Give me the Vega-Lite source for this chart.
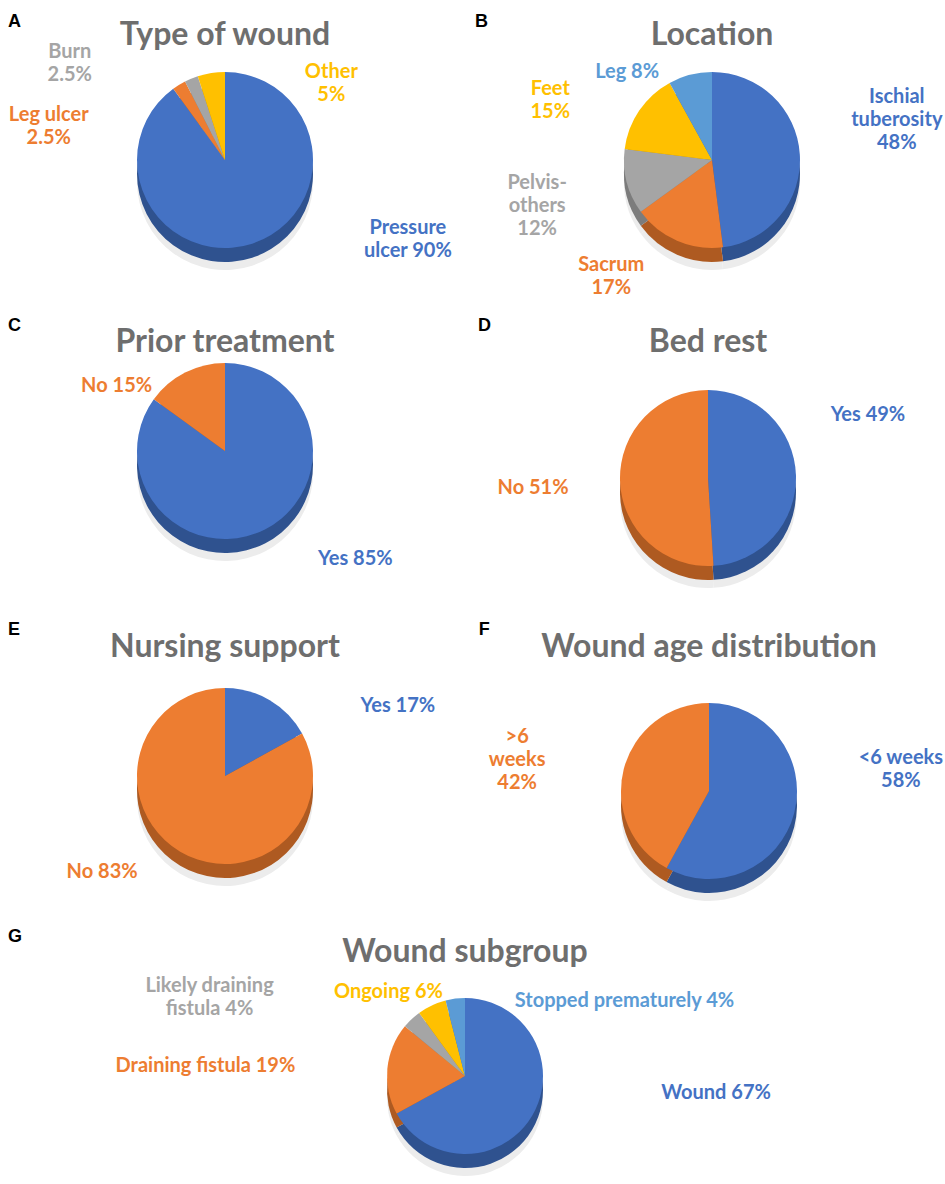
{
  "$schema": "https://vega.github.io/schema/vega-lite/v6.json",
  "background": "white",
  "padding": {"top": 11, "left": 5, "right": 5, "bottom": 5},
  "datasets": {
    "wound": [
      {"k": "Pressure ulcer", "v": 90, "o": 1, "label": "Pressure\nulcer 90%"},
      {"k": "Leg ulcer", "v": 2.5, "o": 2, "label": "Leg ulcer\n2.5%"},
      {"k": "Burn", "v": 2.5, "o": 3, "label": "Burn\n2.5%"},
      {"k": "Other", "v": 5, "o": 4, "label": "Other\n5%"}
    ],
    "location": [
      {"k": "Ischial tuberosity", "v": 48, "o": 1, "label": "Ischial\ntuberosity\n48%"},
      {"k": "Sacrum", "v": 17, "o": 2, "label": "Sacrum\n17%"},
      {"k": "Pelvis-others", "v": 12, "o": 3, "label": "Pelvis-\nothers\n12%"},
      {"k": "Feet", "v": 15, "o": 4, "label": "Feet\n15%"},
      {"k": "Leg", "v": 8, "o": 5, "label": "Leg 8%"}
    ],
    "prior": [
      {"k": "Yes", "v": 85, "o": 1, "label": "Yes 85%"},
      {"k": "No", "v": 15, "o": 2, "label": "No 15%"}
    ],
    "bedrest": [
      {"k": "Yes", "v": 49, "o": 1, "label": "Yes 49%"},
      {"k": "No", "v": 51, "o": 2, "label": "No 51%"}
    ],
    "nursing": [
      {"k": "Yes", "v": 17, "o": 1, "label": "Yes 17%"},
      {"k": "No", "v": 83, "o": 2, "label": "No 83%"}
    ],
    "age": [
      {"k": "<6 weeks", "v": 58, "o": 1, "label": "<6 weeks\n58%"},
      {"k": ">6 weeks", "v": 42, "o": 2, "label": ">6\nweeks\n42%"}
    ],
    "subgroup": [
      {"k": "Wound", "v": 67, "o": 1, "label": "Wound 67%"},
      {"k": "Draining fistula", "v": 19, "o": 2, "label": "Draining fistula 19%"},
      {"k": "Likely draining fistula", "v": 4, "o": 3, "label": "Likely draining\nfistula 4%"},
      {"k": "Ongoing", "v": 6, "o": 4, "label": "Ongoing 6%"},
      {"k": "Stopped prematurely", "v": 4, "o": 5, "label": "Stopped prematurely 4%"}
    ]
  },
  "config": {
    "view": {"stroke": null},
    "font": "Lato",
    "title": {"fontSize": 32, "fontWeight": "bold", "color": "#6E6E6E", "font": "Lato"},
    "text": {"font": "Lato", "fontSize": 20, "fontWeight": "bold", "lineBreak": "\n", "lineHeight": 23, "align": "center", "baseline": "middle", "radius": 100},
    "arc": {"stroke": null}
  },
  "spacing": 5,
  "resolve": {"scale": {"color": "independent", "fill": "independent", "theta": "independent"}},
  "vconcat": [
    {
      "spacing": 22, "align": "none",
      "resolve": {"scale": {"color": "independent", "fill": "independent", "theta": "independent"}},
      "hconcat": [
        {
          "title": {"text": "A", "anchor": "start", "fontSize": 18, "color": "black", "font": "Liberation Sans", "offset": 0, "dy": 20, "dx": 3},
          "vconcat": [{
            "title": {"text": "Type of wound", "offset": -41},
            "width": 440, "height": 298,
            "data": {"name": "wound"},
            "transform": [{"stack": "v", "groupby": [], "sort": [{"field": "o"}], "as": ["v0", "v1"]}],
            "layer": [
              {"mark": {"type": "arc", "outerRadius": 88, "yOffset": 22, "color": "#ececec"}, "encoding": {"theta": {"field": "v0", "type": "quantitative", "stack": null, "scale": {"domain": [0, 100]}}, "theta2": {"field": "v1"}}},
              {"mark": {"type": "arc", "outerRadius": 88, "yOffset": 14}, "encoding": {"theta": {"field": "v0", "type": "quantitative", "stack": null, "scale": {"domain": [0, 100]}}, "theta2": {"field": "v1"}, "fill": {"field": "k", "type": "nominal", "legend": null, "scale": {"domain": ["Pressure ulcer", "Leg ulcer", "Burn", "Other"], "range": ["#2F528F", "#AE5A21", "#7C7C7C", "#BF9000"]}}}},
              {"mark": {"type": "arc", "outerRadius": 88}, "encoding": {"theta": {"field": "v0", "type": "quantitative", "stack": null, "scale": {"domain": [0, 100]}}, "theta2": {"field": "v1"}, "color": {"field": "k", "type": "nominal", "legend": null, "scale": {"domain": ["Pressure ulcer", "Leg ulcer", "Burn", "Other"], "range": ["#4472C4", "#ED7D31", "#A5A5A5", "#FFC000"]}}}},
              {"transform": [{"filter": "datum.k === 'Pressure ulcer'"}], "mark": {"type": "text", "thetaOffset": 2.8274, "dx": 152, "dy": -27, "color": "#4472C4"}, "encoding": {"theta": {"field": "v0", "type": "quantitative", "stack": null, "scale": {"domain": [0, 100]}}, "text": {"field": "label"}}},
              {"transform": [{"filter": "datum.k === 'Leg ulcer'"}], "mark": {"type": "text", "thetaOffset": 0.0785, "dx": -124, "dy": 40, "color": "#ED7D31"}, "encoding": {"theta": {"field": "v0", "type": "quantitative", "stack": null, "scale": {"domain": [0, 100]}}, "text": {"field": "label"}}},
              {"transform": [{"filter": "datum.k === 'Burn'"}], "mark": {"type": "text", "thetaOffset": 0.0785, "dx": -117, "dy": -16, "color": "#A5A5A5"}, "encoding": {"theta": {"field": "v0", "type": "quantitative", "stack": null, "scale": {"domain": [0, 100]}}, "text": {"field": "label"}}},
              {"transform": [{"filter": "datum.k === 'Other'"}], "mark": {"type": "text", "thetaOffset": 0.1571, "dx": 122, "dy": 11, "color": "#FFC000"}, "encoding": {"theta": {"field": "v0", "type": "quantitative", "stack": null, "scale": {"domain": [0, 100]}}, "text": {"field": "label"}}}
            ]
          }]
        },
        {
          "title": {"text": "B", "anchor": "start", "fontSize": 18, "color": "black", "font": "Liberation Sans", "offset": 0, "dy": 20, "dx": -17},
          "vconcat": [{
            "title": {"text": "Location", "offset": -41},
            "width": 440, "height": 298,
            "data": {"name": "location"},
            "transform": [{"stack": "v", "groupby": [], "sort": [{"field": "o"}], "as": ["v0", "v1"]}],
            "layer": [
              {"mark": {"type": "arc", "outerRadius": 88, "yOffset": 22, "color": "#ececec"}, "encoding": {"theta": {"field": "v0", "type": "quantitative", "stack": null, "scale": {"domain": [0, 100]}}, "theta2": {"field": "v1"}}},
              {"mark": {"type": "arc", "outerRadius": 88, "yOffset": 14}, "encoding": {"theta": {"field": "v0", "type": "quantitative", "stack": null, "scale": {"domain": [0, 100]}}, "theta2": {"field": "v1"}, "fill": {"field": "k", "type": "nominal", "legend": null, "scale": {"domain": ["Ischial tuberosity", "Sacrum", "Pelvis-others", "Feet", "Leg"], "range": ["#2F528F", "#AE5A21", "#7C7C7C", "#BF9000", "#41719C"]}}}},
              {"mark": {"type": "arc", "outerRadius": 88}, "encoding": {"theta": {"field": "v0", "type": "quantitative", "stack": null, "scale": {"domain": [0, 100]}}, "theta2": {"field": "v1"}, "color": {"field": "k", "type": "nominal", "legend": null, "scale": {"domain": ["Ischial tuberosity", "Sacrum", "Pelvis-others", "Feet", "Leg"], "range": ["#4472C4", "#ED7D31", "#A5A5A5", "#FFC000", "#5B9BD5"]}}}},
              {"transform": [{"filter": "datum.k === 'Ischial tuberosity'"}], "mark": {"type": "text", "thetaOffset": 1.508, "dx": 85, "dy": -57, "color": "#4472C4"}, "encoding": {"theta": {"field": "v0", "type": "quantitative", "stack": null, "scale": {"domain": [0, 100]}}, "text": {"field": "label"}}},
              {"transform": [{"filter": "datum.k === 'Sacrum'"}], "mark": {"type": "text", "thetaOffset": 0.5341, "dx": -61, "dy": 13, "color": "#ED7D31"}, "encoding": {"theta": {"field": "v0", "type": "quantitative", "stack": null, "scale": {"domain": [0, 100]}}, "text": {"field": "label"}}},
              {"transform": [{"filter": "datum.k === 'Pelvis-others'"}], "mark": {"type": "text", "thetaOffset": 0.377, "dx": -78, "dy": -2, "color": "#A5A5A5"}, "encoding": {"theta": {"field": "v0", "type": "quantitative", "stack": null, "scale": {"domain": [0, 100]}}, "text": {"field": "label"}}},
              {"transform": [{"filter": "datum.k === 'Feet'"}], "mark": {"type": "text", "thetaOffset": 0.4712, "dx": -79, "dy": -15, "color": "#FFC000"}, "encoding": {"theta": {"field": "v0", "type": "quantitative", "stack": null, "scale": {"domain": [0, 100]}}, "text": {"field": "label"}}},
              {"transform": [{"filter": "datum.k === 'Leg'"}], "mark": {"type": "text", "thetaOffset": 0.2513, "dx": -60, "dy": 9, "color": "#5B9BD5"}, "encoding": {"theta": {"field": "v0", "type": "quantitative", "stack": null, "scale": {"domain": [0, 100]}}, "text": {"field": "label"}}}
            ]
          }]
        }
      ]
    },
    {
      "spacing": 33, "align": "none",
      "resolve": {"scale": {"color": "independent", "fill": "independent", "theta": "independent"}},
      "hconcat": [
        {
          "title": {"text": "C", "anchor": "start", "fontSize": 18, "color": "black", "font": "Liberation Sans", "offset": 0, "dy": 21, "dx": 3},
          "vconcat": [{
            "title": {"text": "Prior treatment", "offset": -45},
            "width": 440, "height": 300,
            "data": {"name": "prior"},
            "transform": [{"stack": "v", "groupby": [], "sort": [{"field": "o"}], "as": ["v0", "v1"]}],
            "layer": [
              {"mark": {"type": "arc", "outerRadius": 88, "yOffset": 9, "color": "#ececec"}, "encoding": {"theta": {"field": "v0", "type": "quantitative", "stack": null, "scale": {"domain": [0, 100]}}, "theta2": {"field": "v1"}}},
              {"mark": {"type": "arc", "outerRadius": 88, "yOffset": 1}, "encoding": {"theta": {"field": "v0", "type": "quantitative", "stack": null, "scale": {"domain": [0, 100]}}, "theta2": {"field": "v1"}, "fill": {"field": "k", "type": "nominal", "legend": null, "scale": {"domain": ["Yes", "No"], "range": ["#2F528F", "#AE5A21"]}}}},
              {"mark": {"type": "arc", "outerRadius": 88, "yOffset": -13}, "encoding": {"theta": {"field": "v0", "type": "quantitative", "stack": null, "scale": {"domain": [0, 100]}}, "theta2": {"field": "v1"}, "color": {"field": "k", "type": "nominal", "legend": null, "scale": {"domain": ["Yes", "No"], "range": ["#4472C4", "#ED7D31"]}}}},
              {"transform": [{"filter": "datum.k === 'Yes'"}], "mark": {"type": "text", "thetaOffset": 2.6704, "dx": 85, "dy": 19, "yOffset": -13, "color": "#4472C4"}, "encoding": {"theta": {"field": "v0", "type": "quantitative", "stack": null, "scale": {"domain": [0, 100]}}, "text": {"field": "label"}}},
              {"transform": [{"filter": "datum.k === 'No'"}], "mark": {"type": "text", "thetaOffset": 0.4712, "dx": -63, "dy": 24, "yOffset": -13, "color": "#ED7D31"}, "encoding": {"theta": {"field": "v0", "type": "quantitative", "stack": null, "scale": {"domain": [0, 100]}}, "text": {"field": "label"}}}
            ]
          }]
        },
        {
          "title": {"text": "D", "anchor": "start", "fontSize": 18, "color": "black", "font": "Liberation Sans", "offset": 0, "dy": 21, "dx": -10},
          "vconcat": [{
            "title": {"text": "Bed rest", "offset": -45},
            "width": 440, "height": 300,
            "data": {"name": "bedrest"},
            "transform": [{"stack": "v", "groupby": [], "sort": [{"field": "o"}], "as": ["v0", "v1"]}],
            "layer": [
              {"mark": {"type": "arc", "outerRadius": 88, "yOffset": 36, "color": "#ececec"}, "encoding": {"theta": {"field": "v0", "type": "quantitative", "stack": null, "scale": {"domain": [0, 100]}}, "theta2": {"field": "v1"}}},
              {"mark": {"type": "arc", "outerRadius": 88, "yOffset": 28}, "encoding": {"theta": {"field": "v0", "type": "quantitative", "stack": null, "scale": {"domain": [0, 100]}}, "theta2": {"field": "v1"}, "fill": {"field": "k", "type": "nominal", "legend": null, "scale": {"domain": ["Yes", "No"], "range": ["#2F528F", "#AE5A21"]}}}},
              {"mark": {"type": "arc", "outerRadius": 88, "yOffset": 14}, "encoding": {"theta": {"field": "v0", "type": "quantitative", "stack": null, "scale": {"domain": [0, 100]}}, "theta2": {"field": "v1"}, "color": {"field": "k", "type": "nominal", "legend": null, "scale": {"domain": ["Yes", "No"], "range": ["#4472C4", "#ED7D31"]}}}},
              {"transform": [{"filter": "datum.k === 'Yes'"}], "mark": {"type": "text", "thetaOffset": 1.5394, "dx": 60, "dy": -60, "yOffset": 14, "color": "#4472C4"}, "encoding": {"theta": {"field": "v0", "type": "quantitative", "stack": null, "scale": {"domain": [0, 100]}}, "text": {"field": "label"}}},
              {"transform": [{"filter": "datum.k === 'No'"}], "mark": {"type": "text", "thetaOffset": 1.6022, "dx": -75, "dy": 7, "yOffset": 14, "color": "#ED7D31"}, "encoding": {"theta": {"field": "v0", "type": "quantitative", "stack": null, "scale": {"domain": [0, 100]}}, "text": {"field": "label"}}}
            ]
          }]
        }
      ]
    },
    {
      "spacing": 33, "align": "none",
      "resolve": {"scale": {"color": "independent", "fill": "independent", "theta": "independent"}},
      "hconcat": [
        {
          "title": {"text": "E", "anchor": "start", "fontSize": 18, "color": "black", "font": "Liberation Sans", "offset": 0, "dy": 20, "dx": 3},
          "vconcat": [{
            "title": {"text": "Nursing support", "offset": -45},
            "width": 440, "height": 300,
            "data": {"name": "nursing"},
            "transform": [{"stack": "v", "groupby": [], "sort": [{"field": "o"}], "as": ["v0", "v1"]}],
            "layer": [
              {"mark": {"type": "arc", "outerRadius": 88, "yOffset": 29, "color": "#ececec"}, "encoding": {"theta": {"field": "v0", "type": "quantitative", "stack": null, "scale": {"domain": [0, 100]}}, "theta2": {"field": "v1"}}},
              {"mark": {"type": "arc", "outerRadius": 88, "yOffset": 21}, "encoding": {"theta": {"field": "v0", "type": "quantitative", "stack": null, "scale": {"domain": [0, 100]}}, "theta2": {"field": "v1"}, "fill": {"field": "k", "type": "nominal", "legend": null, "scale": {"domain": ["Yes", "No"], "range": ["#2F528F", "#AE5A21"]}}}},
              {"mark": {"type": "arc", "outerRadius": 88, "yOffset": 7}, "encoding": {"theta": {"field": "v0", "type": "quantitative", "stack": null, "scale": {"domain": [0, 100]}}, "theta2": {"field": "v1"}, "color": {"field": "k", "type": "nominal", "legend": null, "scale": {"domain": ["Yes", "No"], "range": ["#4472C4", "#ED7D31"]}}}},
              {"transform": [{"filter": "datum.k === 'Yes'"}], "mark": {"type": "text", "thetaOffset": 0.5341, "dx": 122, "dy": 16, "yOffset": 7, "color": "#4472C4"}, "encoding": {"theta": {"field": "v0", "type": "quantitative", "stack": null, "scale": {"domain": [0, 100]}}, "text": {"field": "label"}}},
              {"transform": [{"filter": "datum.k === 'No'"}], "mark": {"type": "text", "thetaOffset": 2.6075, "dx": -72, "dy": 10, "yOffset": 7, "color": "#ED7D31"}, "encoding": {"theta": {"field": "v0", "type": "quantitative", "stack": null, "scale": {"domain": [0, 100]}}, "text": {"field": "label"}}}
            ]
          }]
        },
        {
          "title": {"text": "F", "anchor": "start", "fontSize": 18, "color": "black", "font": "Liberation Sans", "offset": 0, "dy": 20, "dx": -10},
          "vconcat": [{
            "title": {"text": "Wound age distribution", "offset": -45},
            "width": 440, "height": 300,
            "data": {"name": "age"},
            "transform": [{"stack": "v", "groupby": [], "sort": [{"field": "o"}], "as": ["v0", "v1"]}],
            "layer": [
              {"mark": {"type": "arc", "outerRadius": 88, "yOffset": 44, "color": "#ececec"}, "encoding": {"theta": {"field": "v0", "type": "quantitative", "stack": null, "scale": {"domain": [0, 100]}}, "theta2": {"field": "v1"}}},
              {"mark": {"type": "arc", "outerRadius": 88, "yOffset": 36}, "encoding": {"theta": {"field": "v0", "type": "quantitative", "stack": null, "scale": {"domain": [0, 100]}}, "theta2": {"field": "v1"}, "fill": {"field": "k", "type": "nominal", "legend": null, "scale": {"domain": ["<6 weeks", ">6 weeks"], "range": ["#2F528F", "#AE5A21"]}}}},
              {"mark": {"type": "arc", "outerRadius": 88, "yOffset": 22}, "encoding": {"theta": {"field": "v0", "type": "quantitative", "stack": null, "scale": {"domain": [0, 100]}}, "theta2": {"field": "v1"}, "color": {"field": "k", "type": "nominal", "legend": null, "scale": {"domain": ["<6 weeks", ">6 weeks"], "range": ["#4472C4", "#ED7D31"]}}}},
              {"transform": [{"filter": "datum.k === '<6 weeks'"}], "mark": {"type": "text", "thetaOffset": 1.8221, "dx": 95, "dy": -58, "yOffset": 22, "color": "#4472C4"}, "encoding": {"theta": {"field": "v0", "type": "quantitative", "stack": null, "scale": {"domain": [0, 100]}}, "text": {"field": "label"}}},
              {"transform": [{"filter": "datum.k === '>6 weeks'"}], "mark": {"type": "text", "thetaOffset": 1.3195, "dx": -95, "dy": -29, "yOffset": 22, "color": "#ED7D31"}, "encoding": {"theta": {"field": "v0", "type": "quantitative", "stack": null, "scale": {"domain": [0, 100]}}, "text": {"field": "label"}}}
            ]
          }]
        }
      ]
    },
    {
      "title": {"text": "G", "anchor": "start", "fontSize": 18, "color": "black", "font": "Liberation Sans", "offset": 0, "dy": 22, "dx": 3},
      "resolve": {"scale": {"color": "independent", "fill": "independent", "theta": "independent"}},
      "vconcat": [{
        "title": {"text": "Wound subgroup", "offset": -45},
        "width": 920, "height": 250,
        "data": {"name": "subgroup"},
        "transform": [{"stack": "v", "groupby": [], "sort": [{"field": "o"}], "as": ["v0", "v1"]}],
        "layer": [
          {"mark": {"type": "arc", "outerRadius": 78, "yOffset": 49, "color": "#ececec"}, "encoding": {"theta": {"field": "v0", "type": "quantitative", "stack": null, "scale": {"domain": [0, 100]}}, "theta2": {"field": "v1"}}},
          {"mark": {"type": "arc", "outerRadius": 78, "yOffset": 41}, "encoding": {"theta": {"field": "v0", "type": "quantitative", "stack": null, "scale": {"domain": [0, 100]}}, "theta2": {"field": "v1"}, "fill": {"field": "k", "type": "nominal", "legend": null, "scale": {"domain": ["Wound", "Draining fistula", "Likely draining fistula", "Ongoing", "Stopped prematurely"], "range": ["#2F528F", "#AE5A21", "#7C7C7C", "#BF9000", "#41719C"]}}}},
          {"mark": {"type": "arc", "outerRadius": 78, "yOffset": 27}, "encoding": {"theta": {"field": "v0", "type": "quantitative", "stack": null, "scale": {"domain": [0, 100]}}, "theta2": {"field": "v1"}, "color": {"field": "k", "type": "nominal", "legend": null, "scale": {"domain": ["Wound", "Draining fistula", "Likely draining fistula", "Ongoing", "Stopped prematurely"], "range": ["#4472C4", "#ED7D31", "#A5A5A5", "#FFC000", "#5B9BD5"]}}}},
          {"transform": [{"filter": "datum.k === 'Wound'"}], "mark": {"type": "text", "thetaOffset": 2.1049, "dx": 165, "dy": -34, "yOffset": 27, "color": "#4472C4"}, "encoding": {"theta": {"field": "v0", "type": "quantitative", "stack": null, "scale": {"domain": [0, 100]}}, "text": {"field": "label"}}},
          {"transform": [{"filter": "datum.k === 'Draining fistula'"}], "mark": {"type": "text", "thetaOffset": 0.5969, "dx": -160, "dy": -1, "yOffset": 27, "color": "#ED7D31"}, "encoding": {"theta": {"field": "v0", "type": "quantitative", "stack": null, "scale": {"domain": [0, 100]}}, "text": {"field": "label"}}},
          {"transform": [{"filter": "datum.k === 'Likely draining fistula'"}], "mark": {"type": "text", "thetaOffset": 0.1257, "dx": -187, "dy": -17, "yOffset": 27, "color": "#A5A5A5"}, "encoding": {"theta": {"field": "v0", "type": "quantitative", "stack": null, "scale": {"domain": [0, 100]}}, "text": {"field": "label"}}},
          {"transform": [{"filter": "datum.k === 'Ongoing'"}], "mark": {"type": "text", "thetaOffset": 0.1885, "dx": -34, "dy": 6, "yOffset": 27, "color": "#FFC000"}, "encoding": {"theta": {"field": "v0", "type": "quantitative", "stack": null, "scale": {"domain": [0, 100]}}, "text": {"field": "label"}}},
          {"transform": [{"filter": "datum.k === 'Stopped prematurely'"}], "mark": {"type": "text", "thetaOffset": 0.1257, "dx": 172, "dy": 24, "yOffset": 27, "color": "#5B9BD5"}, "encoding": {"theta": {"field": "v0", "type": "quantitative", "stack": null, "scale": {"domain": [0, 100]}}, "text": {"field": "label"}}}
        ]
      }]
    }
  ]
}
